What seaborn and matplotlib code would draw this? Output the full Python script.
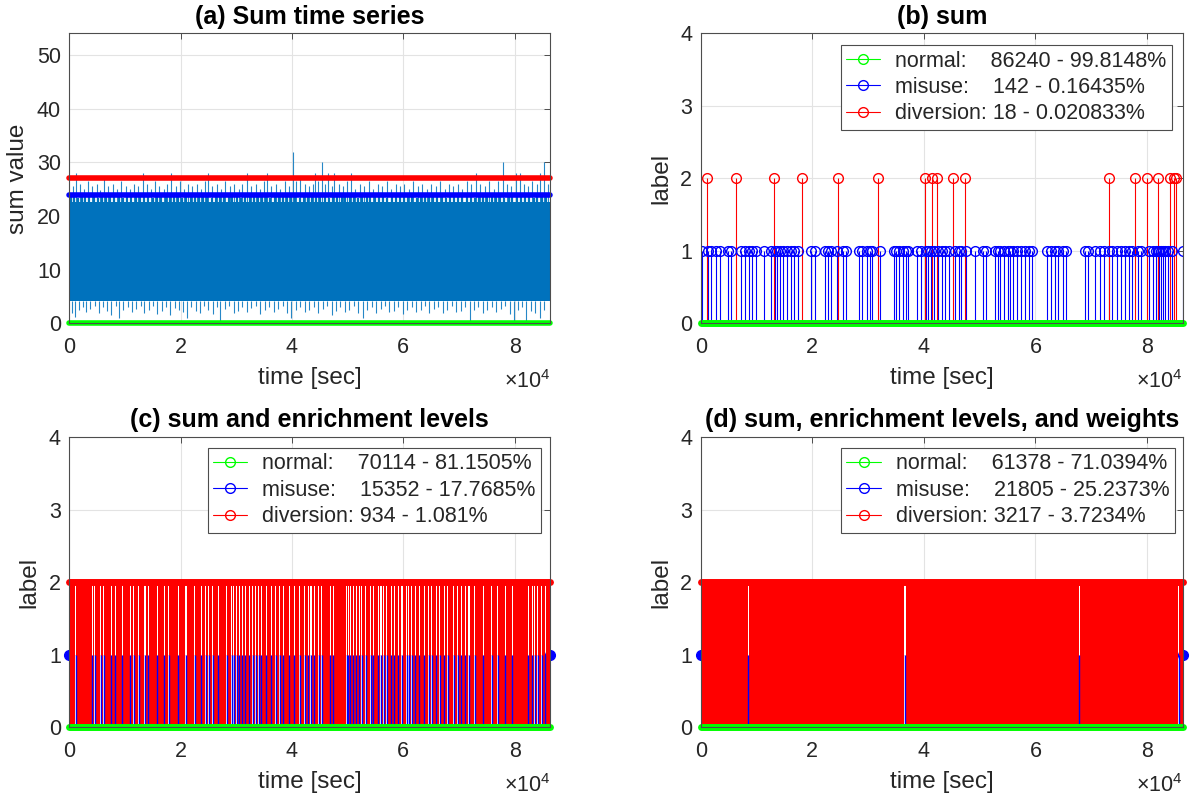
import numpy as np
import pandas as pd
import matplotlib
matplotlib.use("Agg")
import matplotlib.pyplot as plt
import seaborn as sns
from matplotlib.lines import Line2D

# ---------------- data ----------------
T_END = 86400

# (a) sum time series: dense core band plus the visible spikes above / below it
a_core_lo = 4.2
a_core_hi = 22.6
a_up_t = [600, 1200, 1900, 2600, 3400, 4100, 4900, 5500, 6300, 7000, 7800, 8600, 9300, 10100, 10900,
          11700, 12400, 13200, 13900, 14700, 15400, 16200, 17000, 17600, 18300, 19100, 19800, 20600,
          21300, 22100, 22900, 23700, 24400, 24900, 25700, 26500, 27300, 28000, 28800, 29600, 30400,
          31100, 31900, 32700, 33500, 34300, 35000, 35500, 36300, 37100, 37900, 38700, 39500, 40250,
          40800, 41500, 42300, 43000, 43700, 44050, 44600, 45350, 45900, 46400, 47100, 47600, 48400,
          49200, 49900, 50600, 51400, 52200, 53000, 53800, 54600, 55400, 56200, 57000, 57800, 58600,
          59400, 60200, 61000, 61800, 62600, 63400, 64200, 65000, 65800, 66600, 67400, 68200, 69000,
          69800, 70600, 71400, 72200, 73100, 73800, 74600, 75400, 76200, 77000, 77900, 78600, 79400,
          80300, 80900, 81600, 82400, 83200, 84000, 84500, 85200, 85900]
a_up_v = [25.5, 28, 26, 25, 26.5, 25.5, 26, 24.8, 27.5, 25.5, 26, 25, 26.5, 25.5, 25, 26, 25.5, 28, 26,
          25, 26.5, 25.5, 25, 26, 28, 25.5, 26.5, 25, 26, 25.5, 26, 25, 26.5, 28, 25.5, 26, 25, 26.5,
          25.5, 26, 25, 26, 28, 25.5, 26, 25, 26.5, 28, 25.5, 26, 25, 26.5, 25.5, 32, 26.5, 27.5, 26,
          25.5, 26, 28, 26.5, 30, 26, 28, 25.5, 28, 26, 25.5, 26.5, 28, 25, 26, 25.5, 26.5, 25, 26,
          25.5, 26.5, 25, 26, 25.5, 26, 25, 26.5, 25.5, 26, 25, 26, 25.5, 26.5, 25, 26, 25.5, 26, 25,
          26.5, 26, 28, 26, 25.5, 26.5, 25, 26.5, 30, 26, 25.5, 28, 28, 26, 25.5, 26.5, 26, 28, 30, 26]
# shorter spikes forming the ragged fringe just below the misuse threshold
a_fr_t = [300, 900, 1500, 2200, 2900, 3600, 4400, 5100, 5800, 6600, 7300, 8100, 8900, 9600, 10400,
          11100, 11900, 12700, 13500, 14200, 15000, 15700, 16500, 17300, 18000, 18800, 19500, 20300,
          21000, 21800, 22600, 23300, 24100, 24800, 25600, 26300, 27100, 27800, 28600, 29300, 30100,
          30800, 31600, 32400, 33100, 33900, 34600, 35400, 36100, 36900, 37600, 38400, 39100, 39900,
          40600, 41400, 42100, 42900, 43600, 44400, 45100, 45900, 46600, 47400, 48100, 48900, 49600,
          50400, 51100, 51900, 52600, 53400, 54100, 54900, 55600, 56400, 57100, 57900, 58600, 59400,
          60100, 60900, 61600, 62400, 63100, 63900, 64600, 65400, 66100, 66900, 67600, 68400, 69100,
          69900, 70600, 71400, 72100, 72900, 73600, 74400, 75100, 75900, 76600, 77400, 78100, 78900,
          79600, 80400, 81100, 81900, 82600, 83400, 84100, 84900, 85600]
a_fr_v = [23.6, 23.9, 23.4, 24.0, 23.7, 23.5, 23.9, 23.3, 23.8, 24.0, 23.5, 23.7, 23.9, 23.4, 23.8,
          23.6, 24.0, 23.5, 23.7, 23.9, 23.3, 23.8, 23.6, 24.0, 23.5, 23.7, 23.9, 23.4, 23.8, 23.6,
          24.0, 23.5, 23.7, 23.9, 23.3, 23.8, 23.6, 24.0, 23.5, 23.7, 23.9, 23.4, 23.8, 23.6, 24.0,
          23.5, 23.7, 23.9, 23.3, 23.8, 23.6, 24.0, 23.5, 23.7, 23.9, 23.4, 23.8, 23.6, 24.0, 23.5,
          23.7, 23.9, 23.3, 23.8, 23.6, 24.0, 23.5, 23.7, 23.9, 23.4, 23.8, 23.6, 24.0, 23.5, 23.7,
          23.9, 23.3, 23.8, 23.6, 24.0, 23.5, 23.7, 23.9, 23.4, 23.8, 23.6, 24.0, 23.5, 23.7, 23.9,
          23.3, 23.8, 23.6, 24.0, 23.5, 23.7, 23.9, 23.4, 23.8, 23.6, 24.0, 23.5, 23.7, 23.9, 23.3,
          23.8, 23.6, 24.0, 23.5, 23.7, 23.9, 23.4, 23.8, 23.5, 23.9]
a_dn_t = [400, 1000, 1700, 2400, 3000, 3800, 4600, 5300, 6000, 6800, 7500, 8300, 9000, 9700, 10500,
          11300, 12000, 12800, 13500, 14300, 15100, 15800, 16600, 17400, 18100, 18900, 19700, 20400,
          21100, 21900, 22700, 23500, 24200, 25000, 25800, 26600, 27100, 27900, 28700, 29500, 30300,
          31100, 31900, 32700, 33500, 34300, 35100, 35900, 36700, 37500, 38300, 39100, 39900, 40700,
          41500, 42300, 43100, 43900, 44700, 45500, 46300, 47100, 47900, 48700, 49500, 50300, 51100,
          51900, 52700, 53500, 54300, 55100, 55900, 56700, 57500, 58300, 59100, 59900, 60700, 61500,
          62300, 63100, 63900, 64700, 65500, 66300, 67100, 67900, 68700, 69500, 70300, 71100, 71900,
          72700, 73500, 74300, 75100, 75900, 76700, 77500, 78300, 79100, 79800, 80600, 81400, 82100,
          82900, 83700, 84500, 85300]
a_dn_v = [2.0, 1.2, 2.6, 3.1, 2.2, 2.7, 3.3, 1.9, 3.0, 2.4, 1.6, 3.2, 1.0, 2.6, 3.0, 2.1, 2.7, 3.3, 2.0,
          2.5, 3.2, 1.8, 2.4, 3.1, 1.5, 2.9, 2.6, 2.2, 1.0, 3.1, 2.4, 2.0, 3.3, 2.6, 1.8, 3.0, 0.3, 2.7,
          3.2, 1.9, 2.4, 3.0, 2.2, 2.8, 3.3, 1.8, 2.5, 3.1, 2.1, 2.7, 3.2, 1.9, 1.0, 2.6, 3.1, 2.2, 2.5,
          3.0, 2.0, 2.7, 3.3, 1.5, 2.4, 3.0, 2.1, 2.6, 3.2, 1.9, 1.0, 2.5, 3.1, 2.0, 2.7, 3.2, 2.1, 2.4,
          3.0, 1.8, 2.6, 3.1, 2.2, 2.5, 3.3, 1.9, 2.7, 3.0, 2.0, 2.6, 3.2, 2.1, 2.4, 3.0, 0.5, 2.6, 3.1,
          1.9, 2.5, 3.0, 2.2, 2.7, 3.2, 1.8, 0.3, 2.6, 3.0, 0.5, 2.4, 2.0, 1.0, 2.5]
a_thr_normal = 0
a_thr_misuse = 24
a_thr_diversion = 27

# (b) labels from "sum"
b_misuse_t = [203, 1219, 1896, 2708, 3385, 4942, 5416, 7177, 7989, 8666, 9208, 9885, 11374, 12593,
              13270, 13744, 14218, 14760, 15437, 16114, 16791, 17468, 19837, 20514, 22207, 22884,
              23426, 24374, 25592, 26134, 28301, 28978, 29790, 30332, 30738, 32227, 34733, 35071,
              35545, 36290, 36764, 37238, 38795, 39472, 40352, 40826, 41300, 41842, 42519, 43196,
              43737, 44550, 45565, 46243, 46581, 47597, 49086, 50643, 51185, 52674, 53216, 53690,
              54367, 55044, 55383, 56060, 56737, 57414, 58091, 58768, 59445, 62153, 62830, 63507,
              64049, 64997, 65538, 68924, 69465, 70616, 71632, 72309, 73121, 73663, 74678, 75355,
              76032, 76709, 77386, 78402, 78944, 80433, 81110, 81652, 81923, 82194, 82464, 82871,
              83142, 83683, 84496, 86392]
b_diversion_t = [1080, 6360, 13130, 18150, 24640, 31750, 40150, 41500, 42320, 45160, 47330, 73120,
                 77860, 79960, 82060, 84160, 84770, 85170]
b_labels = ["normal:    86240 - 99.8148%", "misuse:    142 - 0.16435%", "diversion: 18 - 0.020833%"]

# (c) sum and enrichment levels: time columns not covered by diversion (misuse only)
c_misuse_only_t = [1168, 4122, 4603, 5633, 6183, 7557, 8244, 9481, 10992, 11542, 12503, 13603, 14221,
                   15801, 17038, 17862, 19580, 20954, 22534, 23702, 24526, 25076, 25763, 26793, 28304,
                   29198, 29541, 30091, 30572, 31052, 31602, 32289, 32976, 33457, 34006, 34487, 35381,
                   36274, 37098, 37785, 38472, 39503, 40396, 41357, 42251, 42938, 43418, 43968, 44792,
                   45342, 46853, 47403, 49808, 50151, 50495, 50975, 51525, 52075, 52556, 53243, 54136,
                   54617, 55510, 55991, 56471, 57021, 57845, 58395, 59082, 59769, 60593, 61006, 61487,
                   62174, 62861, 63754, 64578, 65128, 65952, 66502, 67326, 68013, 69043, 69731, 70418,
                   71105, 71792, 72822, 74333, 75914, 76944, 78318, 79555, 82440, 83127, 83608, 84158,
                   84845, 85532]
c_labels = ["normal:    70114 - 81.1505%", "misuse:    15352 - 17.7685%", "diversion: 934 - 1.081%"]

# (d) sum, enrichment levels and weights
d_misuse_only_t = [8530, 36630, 67900, 85650]
d_labels = ["normal:    61378 - 71.0394%", "misuse:    21805 - 25.2373%", "diversion: 3217 - 3.7234%"]

titles = ["(a) Sum time series", "(b) sum", "(c) sum and enrichment levels",
          "(d) sum, enrichment levels, and weights"]

# ---------------- style ----------------
sns.set_theme(style="white")
plt.rcParams["font.family"] = ["Liberation Sans", "DejaVu Sans"]
plt.rcParams["mathtext.fontset"] = "custom"
plt.rcParams["mathtext.rm"] = "Liberation Sans"
plt.rcParams["mathtext.it"] = "Liberation Sans"

MBLUE = "#0072BD"
GREEN = "#00FF00"
BLUE = "#0000FF"
RED = "#FF0000"
TXT = "#262626"
TICK_FS = 15.5
LAB_FS = 17.5
TITLE_FS = 18
LEG_FS = 15.5

fig = plt.figure(figsize=(11.91, 7.97), dpi=100)
W, H = 1191, 797
def pos(l, t, r, b):
    return [l / W, (H - b) / H, (r - l) / W, (b - t) / H]

ax_a = fig.add_axes(pos(69.3, 33.3, 550.3, 323.5))
ax_b = fig.add_axes(pos(700.7, 33.3, 1182.7, 323.5))
ax_c = fig.add_axes(pos(69.3, 437.0, 550.3, 727.3))
ax_d = fig.add_axes(pos(700.7, 437.0, 1182.7, 727.3))


def style_axes(ax, title, ylabel, ylim, yticks):
    ax.set_xlim(0, T_END)
    ax.set_ylim(*ylim)
    ax.set_xticks([0, 20000, 40000, 60000, 80000])
    ax.set_xticklabels(["0", "2", "4", "6", "8"])
    ax.set_yticks(yticks)
    ax.set_yticklabels([str(v) for v in yticks])
    ax.grid(True, color="#e3e3e3", lw=0.8, zorder=0)
    ax.set_axisbelow(True)
    for s in ax.spines.values():
        s.set_color("#4d4d4d")
        s.set_linewidth(0.8)
        s.set_zorder(10)
    ax.tick_params(direction="in", top=True, right=True, length=4, width=0.7,
                   colors="#4d4d4d", labelcolor=TXT, labelsize=TICK_FS)
    ax.tick_params(axis="x", pad=10)
    ax.tick_params(axis="y", pad=6)
    ax.set_title(title, fontsize=TITLE_FS, fontweight="bold", color="black", pad=7)
    ax.set_xlabel("time [sec]", fontsize=LAB_FS, color=TXT, labelpad=6)
    ax.set_ylabel(ylabel, fontsize=LAB_FS, color=TXT, labelpad=6)
    ax.text(1.0, -0.222, "×10$^{4}$", transform=ax.transAxes, ha="right", va="baseline",
            fontsize=TICK_FS, color=TXT)


def legend(ax, labels, anchor):
    handles = [Line2D([], [], color=c, lw=0.8, marker="o", mfc="none", mec=c, ms=7,
                      markeredgewidth=1.0, markevery=[2]) for c in (GREEN, BLUE, RED)]
    lg = ax.legend(handles, labels, loc="upper right", bbox_to_anchor=anchor, borderaxespad=0,
                   numpoints=1, handlelength=1.6, handletextpad=0.7, fancybox=False,
                   framealpha=1, edgecolor="#4d4d4d", fontsize=LEG_FS, labelspacing=0.25,
                   borderpad=0.25)
    lg.get_frame().set_linewidth(0.8)
    lg.set_zorder(20)
    for t in lg.get_texts():
        t.set_color(TXT)


# ---- (a)
ax = ax_a
ax.fill_between([0, T_END], [a_core_lo, a_core_lo], [a_core_hi, a_core_hi], color=MBLUE, lw=0, zorder=2)
ax.vlines(a_fr_t, a_core_hi - 0.5, a_fr_v, color=MBLUE, lw=1.6, zorder=2)
ax.vlines(a_up_t, a_core_hi, a_up_v, color=MBLUE, lw=0.8, alpha=0.85, zorder=2)
ax.vlines(a_dn_t, a_dn_v, a_core_lo, color=MBLUE, lw=0.8, alpha=0.85, zorder=2)
thr = pd.DataFrame({"t": [0, T_END] * 3,
                    "v": [a_thr_normal] * 2 + [a_thr_misuse] * 2 + [a_thr_diversion] * 2,
                    "k": ["normal"] * 2 + ["misuse"] * 2 + ["diversion"] * 2})
sns.lineplot(data=thr, x="t", y="v", hue="k", palette={"normal": GREEN, "misuse": BLUE, "diversion": RED},
             lw=4, ax=ax, legend=False, zorder=3)
for ln in ax.get_lines():
    ln.set_clip_on(False)
style_axes(ax, titles[0], "sum value", (0, 54), [0, 10, 20, 30, 40, 50])

# ---- (b)
ax = ax_b
ax.vlines(b_misuse_t, 0, 1, color=BLUE, lw=0.8, zorder=3)
ax.vlines(b_diversion_t, 0, 2, color=RED, lw=0.8, zorder=3)
pts = pd.DataFrame({"t": b_misuse_t + b_diversion_t,
                    "y": [1] * len(b_misuse_t) + [2] * len(b_diversion_t),
                    "k": ["misuse"] * len(b_misuse_t) + ["diversion"] * len(b_diversion_t)})
for k, c in (("misuse", BLUE), ("diversion", RED)):
    sub = pts[pts.k == k]
    ax.plot(sub.t, sub.y, ls="none", marker="o", mfc="none", mec=c, ms=7, mew=1.0, zorder=4)
ax.plot([0, T_END], [0, 0], color=GREEN, lw=5, solid_capstyle="round", clip_on=False, zorder=5)
style_axes(ax, titles[1], "label", (0, 4), [0, 1, 2, 3, 4])
legend(ax, b_labels, (0.978, 0.959))


# ---- (c), (d)
def dense_panel(ax, gaps, title, labels, anchor, gap_w):
    gaps = sorted(gaps)
    starts, ends = [0], []
    for g in gaps:
        ends.append(g - gap_w / 2)
        starts.append(g + gap_w / 2)
    ends.append(T_END)
    spans = pd.DataFrame({"start": starts, "end": ends})
    # blue edge markers (misuse level) mostly hidden behind red stems
    ax.plot([0, T_END], [1, 1], ls="none", marker="o", ms=7, color=BLUE, clip_on=False, zorder=2)
    ax.bar(x=spans.start, height=2, width=spans.end - spans.start, bottom=0, align="edge",
           color=RED, lw=0, zorder=3)
    ax.vlines(gaps, 0, 1, color=BLUE, lw=1.0, zorder=3)
    ax.plot([0, T_END], [2, 2], color=RED, lw=5, solid_capstyle="round", clip_on=False, zorder=4)
    ax.plot([0, T_END], [0, 0], color=GREEN, lw=5, solid_capstyle="round", clip_on=False, zorder=5)
    style_axes(ax, title, "label", (0, 4), [0, 1, 2, 3, 4])
    legend(ax, labels, anchor)


dense_panel(ax_c, c_misuse_only_t, titles[2], c_labels, (0.981, 0.962), 200)
dense_panel(ax_d, d_misuse_only_t, titles[3], d_labels, (0.984, 0.962), 220)

fig.savefig("out.png", dpi=100)
